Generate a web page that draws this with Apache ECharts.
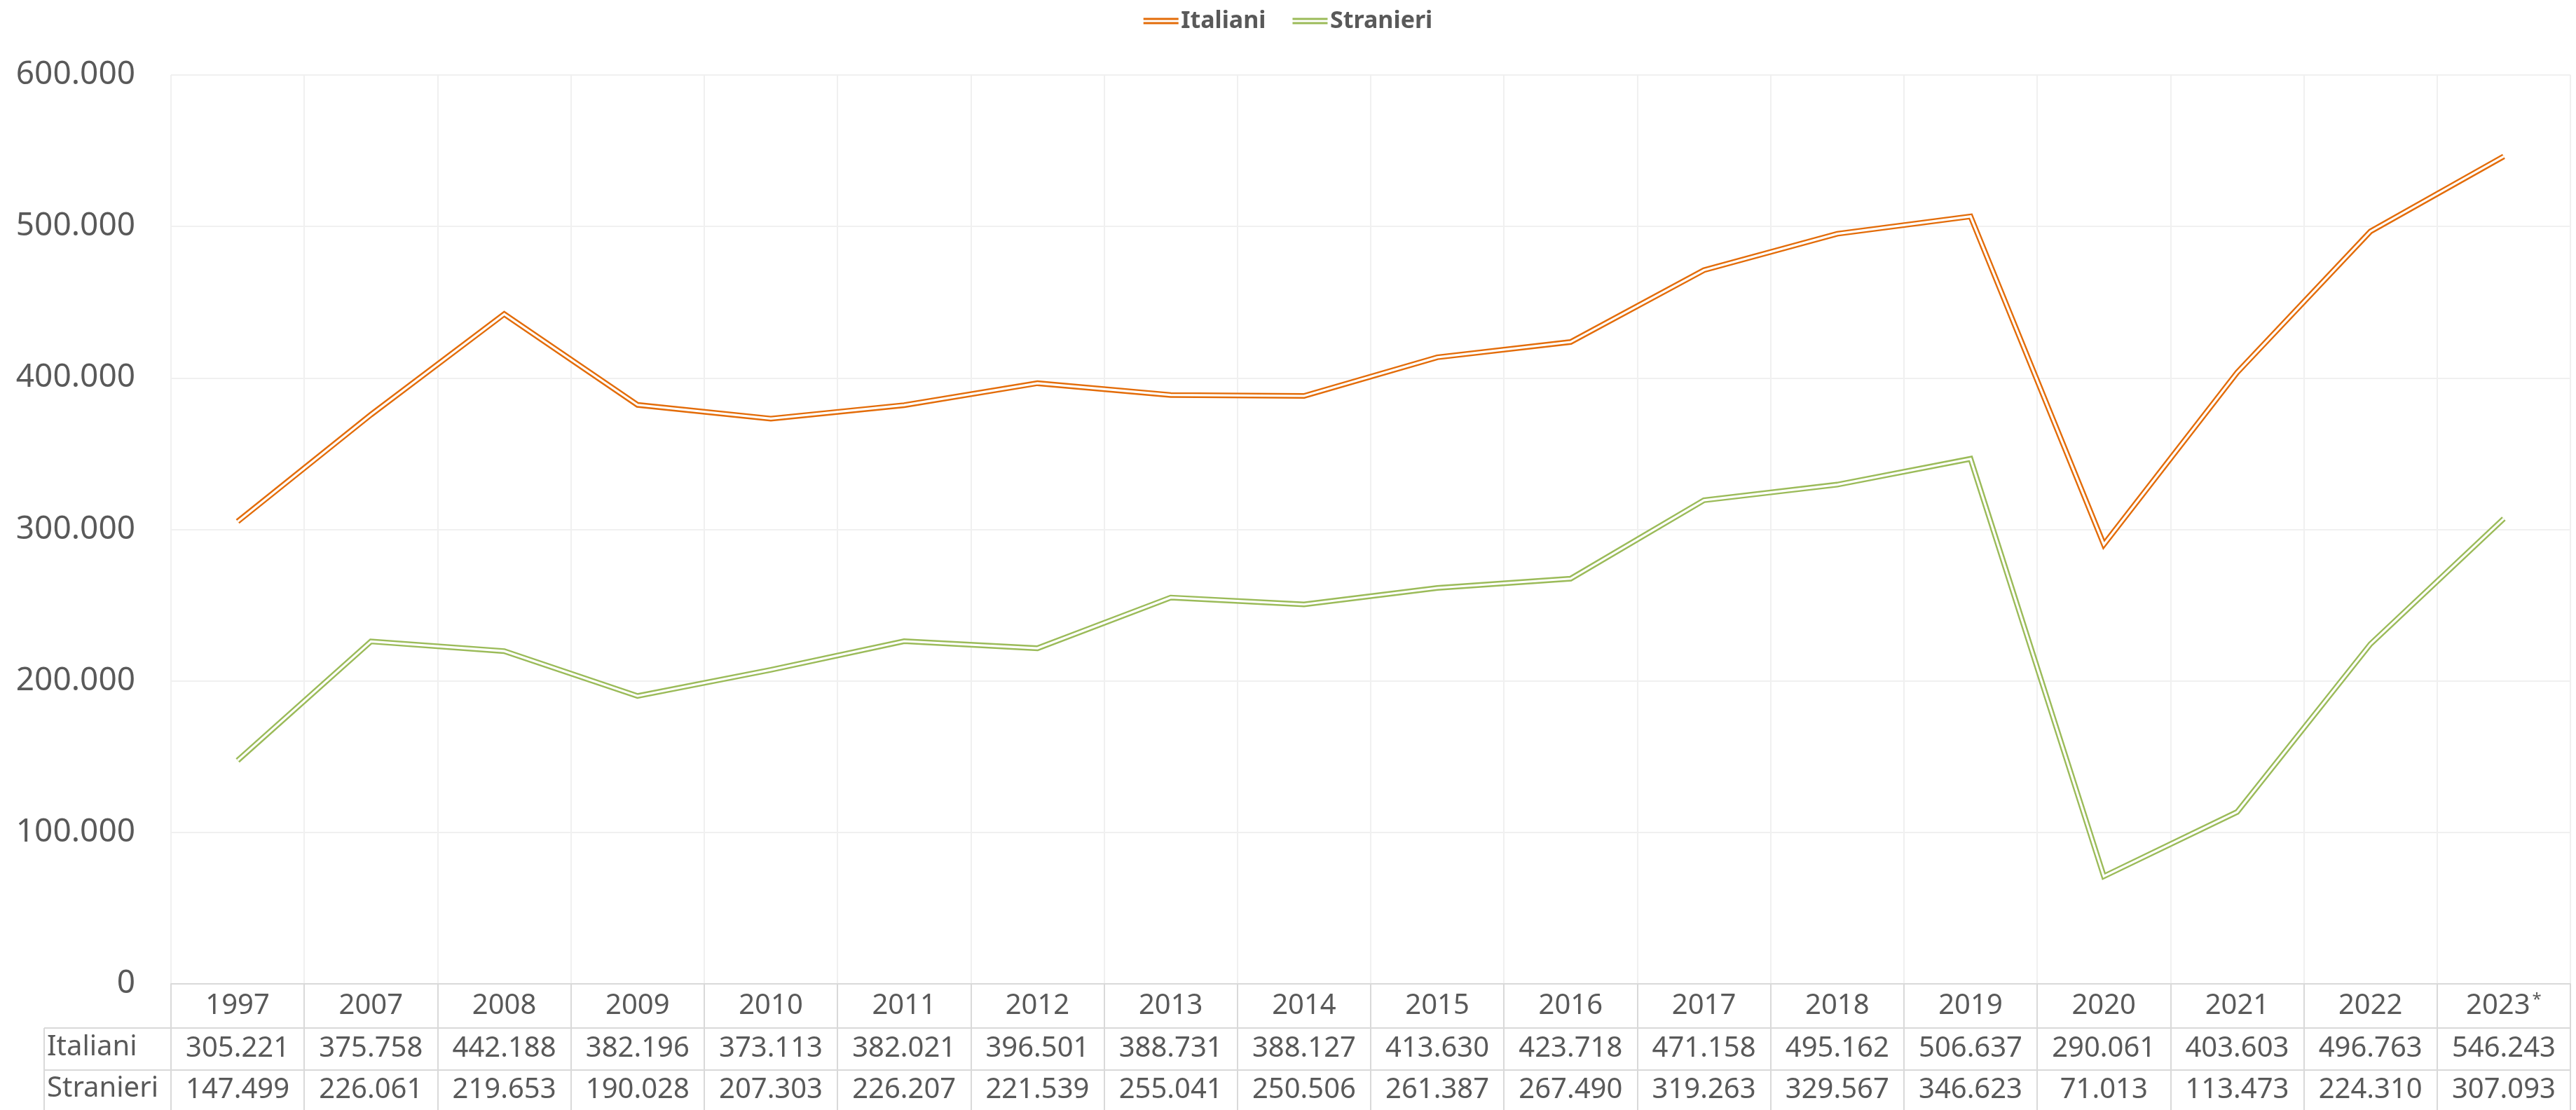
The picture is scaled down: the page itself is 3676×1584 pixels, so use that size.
<!DOCTYPE html>
<html>
<head>
<meta charset="utf-8">
<script src="https://cdn.jsdelivr.net/npm/echarts@6/dist/echarts.min.js"></script>
<style>
  html, body { margin: 0; padding: 0; background: #fff; }
  #main { width: 3676px; height: 1584px; }
</style>
</head>
<body>
<div id="main"></div>
<script>
// dati
var anni = ['1997', '2007', '2008', '2009', '2010', '2011', '2012', '2013', '2014',
  '2015', '2016', '2017', '2018', '2019', '2020', '2021', '2022', '2023*'];
var italiani = [305221, 375758, 442188, 382196, 373113, 382021, 396501, 388731, 388127,
  413630, 423718, 471158, 495162, 506637, 290061, 403603, 496763, 546243];
var stranieri = [147499, 226061, 219653, 190028, 207303, 226207, 221539, 255041, 250506,
  261387, 267490, 319263, 329567, 346623, 71013, 113473, 224310, 307093];
var yTicks = [0, 100000, 200000, 300000, 400000, 500000, 600000];

var arancio = '#E36C09';
var verde = '#9BBB59';
var grigio = '#595959';
var bordo = '#d9d9d9';
var fontTab = "'Liberation Sans Narrow', 'Noto Sans', sans-serif";
var fontAsse = "'Noto Sans', sans-serif";

// 305221 -> "305.221"
function fmt(v) {
  return String(v).replace(/\B(?=(\d{3})+(?!\d))/g, '.');
}

var myChart = echarts.init(document.getElementById('main'));

var gridL = 244, gridR = 8, gridT = 107, gridB = 180;
var rowH = [63, 60, 57];

function rigaTabella(dati, offset, h) {
  return {
    type: 'category',
    data: dati,
    position: 'bottom',
    offset: offset,
    boundaryGap: true,
    axisLine: { show: true, lineStyle: { color: bordo, width: 2 } },
    axisTick: { show: true, interval: 0, length: h, lineStyle: { color: bordo, width: 2 } },
    axisLabel: {
      interval: 0, margin: h / 2, verticalAlign: 'middle',
      fontSize: 40, fontFamily: fontTab, color: grigio
    },
    splitLine: { show: false }
  };
}

var asseAnni = rigaTabella(anni, 0, rowH[0]);
asseAnni.splitLine = { show: true, interval: 0, lineStyle: { color: '#f0f0f0', width: 2 } };
asseAnni.axisLabel.formatter = function (v) {
  return v.slice(-1) === '*' ? v.slice(0, -1) + '{s|*}' : v;
};
asseAnni.axisLabel.rich = { s: { fontSize: 24, fontFamily: fontTab, color: grigio, padding: [0, 0, 16, 3] } };

var option = {
  animation: false,
  backgroundColor: '#fff',
  legend: {
    data: ['Italiani', 'Stranieri'],
    top: 8,
    left: 'center',
    icon: 'path://M0,0H50V3H0Z M0,6H50V9H0Z',
    itemWidth: 51,
    itemHeight: 9,
    itemGap: 38,
    textStyle: { fontSize: 34, fontWeight: 'bold', color: grigio, fontFamily: fontAsse, padding: [0, 0, 0, -2] }
  },
  grid: { left: gridL, right: gridR, top: gridT, bottom: gridB, containLabel: false },
  xAxis: [
    asseAnni,
    rigaTabella(italiani.map(fmt), rowH[0], rowH[1]),
    rigaTabella(stranieri.map(fmt), rowH[0] + rowH[1], rowH[2])
  ],
  yAxis: {
    type: 'value',
    min: yTicks[0],
    max: yTicks[yTicks.length - 1],
    interval: yTicks[1] - yTicks[0],
    axisLine: { show: false },
    axisTick: { show: false },
    axisLabel: { fontSize: 46, fontFamily: fontAsse, color: grigio, margin: 51, formatter: fmt },
    splitLine: { lineStyle: { color: '#f0f0f0', width: 2 } }
  },
  series: [
    { name: 'Italiani', type: 'line', data: italiani, symbol: 'none', color: arancio,
      lineStyle: { color: arancio, width: 8, join: 'miter' }, z: 3 },
    { name: 'Stranieri', type: 'line', data: stranieri, symbol: 'none', color: verde,
      lineStyle: { color: verde, width: 8, join: 'miter' }, z: 3 },
    // riga bianca centrale per l'effetto linea doppia
    { name: 'ita_in', type: 'line', data: italiani, symbol: 'none', silent: true,
      lineStyle: { color: '#fff', width: 3.2, join: 'miter' }, z: 4 },
    { name: 'str_in', type: 'line', data: stranieri, symbol: 'none', silent: true,
      lineStyle: { color: '#fff', width: 3.2, join: 'miter' }, z: 4 }
  ],
  graphic: [
    { type: 'line', shape: { x1: 63, y1: 1467, x2: gridL, y2: 1467 }, style: { stroke: bordo, lineWidth: 2 } },
    { type: 'line', shape: { x1: 63, y1: 1527, x2: gridL, y2: 1527 }, style: { stroke: bordo, lineWidth: 2 } },
    { type: 'line', shape: { x1: 63, y1: 1467, x2: 63, y2: 1584 }, style: { stroke: bordo, lineWidth: 2 } },
    { type: 'text', left: 67, top: 1497 - 22, style: { text: 'Italiani', fontSize: 40, fontFamily: fontTab, fill: grigio } },
    { type: 'text', left: 67, top: 1556 - 22, style: { text: 'Stranieri', fontSize: 40, fontFamily: fontTab, fill: grigio } }
  ]
};

myChart.setOption(option);
</script>
</body>
</html>
